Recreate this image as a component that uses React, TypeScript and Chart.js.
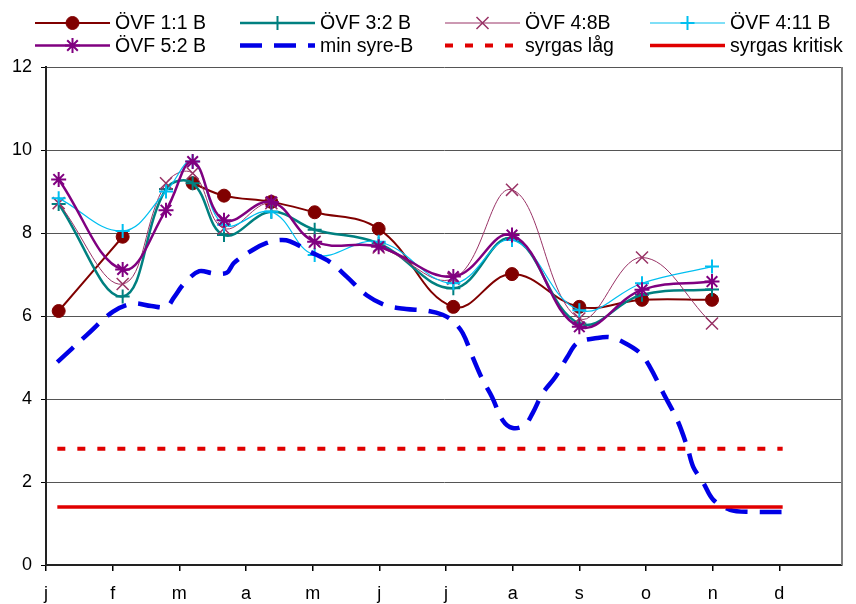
import React, { useEffect, useRef } from 'react';
import { Chart, registerables } from 'chart.js';
import { drawPoint } from 'chart.js/helpers';

Chart.register(...registerables);

// ---- Data ----
const monthLabels = ['j', 'f', 'm', 'a', 'm', 'j', 'j', 'a', 's', 'o', 'n', 'd'];
const monthTicks = [0, 1, 2, 3, 4, 5, 6, 7, 8, 9, 10, 11];

const sampleX = [0.19, 1.15, 1.8, 2.2, 2.67, 3.38, 4.03, 4.99, 6.11, 6.99, 8.0, 8.94, 9.99];
const ovf11B = [6.12, 7.91, null, 9.2, 8.9, 8.75, 8.5, 8.1, 6.22, 7.01, 6.22, 6.39, 6.39];
const ovf32B = [8.7, 6.47, 9.06, 9.2, 7.95, 8.51, 8.08, 7.75, 6.67, 7.87, 5.82, 6.51, 6.64];
const ovf48B = [8.72, 6.77, 9.2, 9.44, 8.11, 8.72, 7.79, 7.65, 6.9, 9.04, 5.94, 7.41, 5.82];
const ovf411B = [8.84, 8.05, 9.0, 9.72, 8.2, 8.51, 7.47, 7.79, 6.79, 7.83, 6.14, 6.79, 7.19];
const ovf52B = [9.29, 7.12, 8.55, 9.72, 8.31, 8.75, 7.79, 7.67, 6.95, 7.95, 5.74, 6.63, 6.83];

const minSyreX = [
  0.17, 0.61, 1.0, 1.3, 1.58, 1.81, 1.92, 2.08, 2.3, 2.5, 2.71, 2.82, 3.1, 3.31, 3.51, 3.66,
  3.96, 4.26, 4.51, 4.81, 5.11, 5.4, 5.7, 5.95, 6.1, 6.25, 6.4, 6.55, 6.69, 6.85, 7.0, 7.18,
  7.3, 7.45, 7.64, 7.82, 7.97, 8.27, 8.46, 8.66, 8.91, 9.06, 9.26, 9.47, 9.62, 9.71, 9.86,
  10.01, 10.26, 10.56, 11.06,
];
const minSyreY = [
  4.89, 5.54, 6.1, 6.3, 6.24, 6.22, 6.45, 6.8, 7.08, 7.03, 7.04, 7.28, 7.59, 7.76, 7.83, 7.8,
  7.55, 7.3, 6.95, 6.5, 6.25, 6.17, 6.13, 6.03, 5.88, 5.59, 5.01, 4.46, 4.05, 3.49, 3.3, 3.37,
  3.66, 4.14, 4.53, 5.01, 5.35, 5.47, 5.49, 5.37, 5.11, 4.77, 4.14, 3.49, 2.84, 2.36, 1.98,
  1.57, 1.33, 1.28, 1.28,
];

const limitX = [0.17, 11.05];
const syrgasLag = [2.8, 2.8];
const syrgasKritisk = [1.4, 1.4];

const pts = (xs: number[], ys: (number | null)[]) => xs.map((x, i) => ({ x, y: ys[i] }));

const FONT = 'Liberation Sans';

const legendPlugin = {
  id: 'customLegend',
  afterDraw(chart: any) {
    const ctx = chart.ctx;
    chart.data.datasets.forEach((ds: any, i: number) => {
      const col = i % 4;
      const row = Math.floor(i / 4);
      const x0 = 35 + col * 205;
      const y = 23 + row * 22.5;
      ctx.save();
      ctx.strokeStyle = ds.borderColor;
      ctx.lineWidth = ds.borderWidth;
      ctx.setLineDash(ds.borderDash || []);
      ctx.beginPath();
      ctx.moveTo(x0, y);
      ctx.lineTo(x0 + 75, y);
      ctx.stroke();
      ctx.setLineDash([]);
      if (ds.pointRadius > 0) {
        ctx.fillStyle = ds.pointBackgroundColor;
        ctx.strokeStyle = ds.pointBorderColor;
        ctx.lineWidth = ds.pointBorderWidth;
        drawPoint(
          ctx,
          { pointStyle: ds.pointStyle, radius: ds.pointRadius, rotation: 0, borderWidth: ds.pointBorderWidth },
          x0 + 37.5,
          y
        );
      }
      ctx.fillStyle = '#000';
      ctx.font = `19.5px "${FONT}"`;
      ctx.textBaseline = 'middle';
      ctx.textAlign = 'left';
      ctx.fillText(ds.label, x0 + 80, y + 1);
      ctx.restore();
    });
  },
};

const framePlugin = {
  id: 'rightFrame',
  afterDraw(chart: any) {
    const { ctx, chartArea } = chart;
    ctx.save();
    ctx.strokeStyle = '#808080';
    ctx.lineWidth = 2;
    ctx.beginPath();
    ctx.moveTo(chartArea.right, chartArea.top);
    ctx.lineTo(chartArea.right, chartArea.bottom);
    ctx.stroke();
    ctx.restore();
  },
};

export default function App() {
  const ref = useRef<HTMLCanvasElement | null>(null);

  useEffect(() => {
    if (!ref.current) return;
    const mk = (label: string, data: any, color: string, width: number, style: any, radius: number, pbw: number, order: number, fill?: string) => ({
      label,
      data,
      borderColor: color,
      borderWidth: width,
      pointStyle: style,
      pointRadius: radius,
      pointHoverRadius: radius,
      pointBackgroundColor: fill || color,
      pointBorderColor: color,
      pointBorderWidth: pbw,
      tension: 0.4,
      spanGaps: false,
      fill: false,
      order,
    });

    const datasets: any[] = [
      mk('ÖVF 1:1 B', pts(sampleX, ovf11B), '#800000', 2, 'circle', 6.5, 1, 80),
      mk('ÖVF 3:2 B', pts(sampleX, ovf32B), '#008080', 2.5, 'cross', 7, 2, 70),
      mk('ÖVF 4:8B', pts(sampleX, ovf48B), '#993366', 1, 'crossRot', 8.5, 1.5, 60),
      mk('ÖVF 4:11 B', pts(sampleX, ovf411B), '#00BFF0', 1.2, 'cross', 7, 2, 50),
      mk('ÖVF 5:2 B', pts(sampleX, ovf52B), '#800080', 2.5, 'star', 7.5, 2, 40),
      {
        ...mk('min syre-B', pts(minSyreX, minSyreY), '#0000E6', 4.5, 'circle', 0, 0, 30),
        borderDash: [22, 12],
        tension: 0.35,
      },
      {
        ...mk('syrgas låg', pts(limitX, syrgasLag), '#E00000', 4, 'circle', 0, 0, 20),
        borderDash: [8, 12],
        tension: 0,
      },
      {
        ...mk('syrgas kritisk', pts(limitX, syrgasKritisk), '#E00000', 3.5, 'circle', 0, 0, 10),
        tension: 0,
      },
    ];

    const chart = new Chart(ref.current, {
      type: 'line',
      data: { datasets },
      options: {
        animation: false,
        responsive: false,
        maintainAspectRatio: false,
        layout: { padding: { top: 67, right: 14, bottom: 0, left: 0 } },
        plugins: { legend: { display: false }, tooltip: { enabled: false } },
        scales: {
          x: {
            type: 'linear',
            min: 0,
            max: 11.94,
            afterBuildTicks: (scale: any) => {
              scale.ticks = monthTicks.map((v) => ({ value: v }));
            },
            afterFit: (scale: any) => {
              scale.height = 39;
            },
            ticks: {
              autoSkip: false,
              maxRotation: 0,
              color: '#000',
              padding: 12,
              font: { family: FONT, size: 18 },
              callback: (v: any) => monthLabels[Math.round(Number(v))] ?? '',
            },
            grid: { display: true, drawOnChartArea: false, drawTicks: true, tickLength: 6, tickColor: '#000', lineWidth: 1.5 },
            border: { display: true, color: '#222', width: 2 },
          },
          y: {
            type: 'linear',
            min: 0,
            max: 12,
            afterFit: (scale: any) => {
              scale.width = 46;
            },
            ticks: {
              stepSize: 2,
              color: '#000',
              padding: 9,
              font: { family: FONT, size: 18 },
            },
            grid: { color: '#555', lineWidth: 1, tickLength: 5, tickColor: '#000' },
            border: { display: true, color: '#222', width: 2 },
          },
        },
      },
      plugins: [framePlugin, legendPlugin],
    } as any);

    return () => chart.destroy();
  }, []);

  return (
    <div style={{ position: 'absolute', left: 0, top: 0, width: 856, height: 604, background: '#fff' }}>
      <canvas ref={ref} width={856} height={604} style={{ width: 856, height: 604 }} />
    </div>
  );
}
